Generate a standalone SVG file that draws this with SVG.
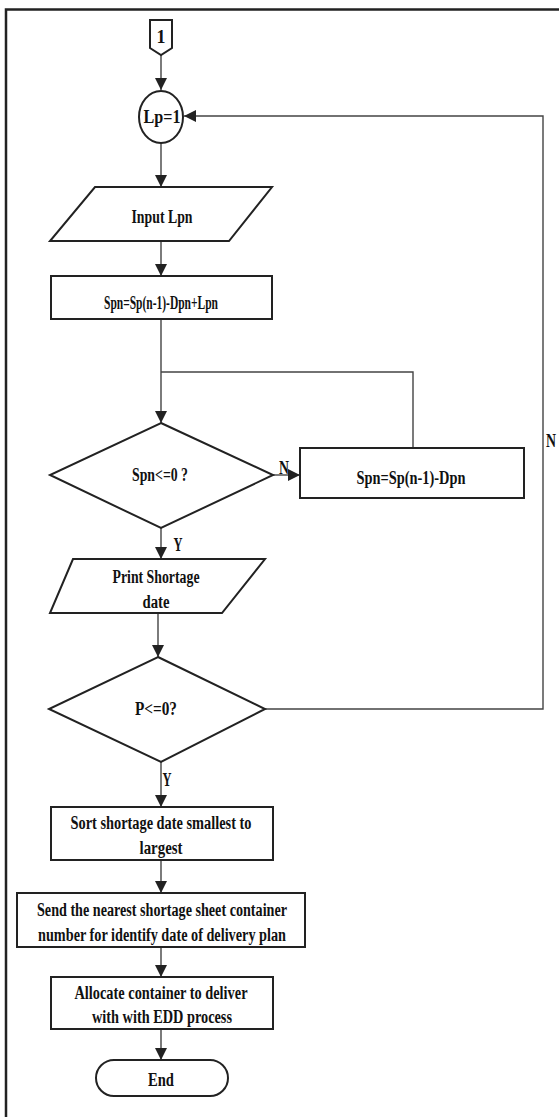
<svg xmlns="http://www.w3.org/2000/svg" width="559" height="1117" viewBox="0 0 559 1117">
<defs>
<marker id="ah" markerUnits="userSpaceOnUse" markerWidth="12" markerHeight="12" refX="12" refY="6" orient="auto"><path d="M0,0 L12,6 L0,12 z" fill="#222"/></marker>
<style>
.n{fill:#fff;stroke:#222;stroke-width:2}
.c{fill:none;stroke:#444;stroke-width:1.4}
.t{font-family:"Liberation Serif","Times New Roman",serif;font-weight:bold;font-size:18px;fill:#111;text-anchor:middle}
.f{fill:none;stroke:#222;stroke-width:2.5}
</style>
</defs>
<rect width="559" height="1117" fill="#fff"/>
<path class="f" d="M6,1117 V9.5 H559"/>
<g id="connectors">
<path class="c" d="M161,55 V90" marker-end="url(#ah)"/>
<path class="c" d="M265,709 H543 V116 H184" marker-end="url(#ah)"/>
<path class="c" d="M161,143 V187" marker-end="url(#ah)"/>
<path class="c" d="M161,241 V276" marker-end="url(#ah)"/>
<path class="c" d="M161,319 V423" marker-end="url(#ah)"/>
<path class="c" d="M413,448 V372 H161" stroke="#777"/>
<path class="c" d="M273,475 H300" marker-end="url(#ah)"/>
<path class="c" d="M161,528 V559" marker-end="url(#ah)"/>
<path class="c" d="M158,613 V657" marker-end="url(#ah)"/>
<path class="c" d="M161,762 V807" marker-end="url(#ah)"/>
<path class="c" d="M161,860 V893" marker-end="url(#ah)"/>
<path class="c" d="M161,947 V977" marker-end="url(#ah)"/>
<path class="c" d="M161,1029 V1060" marker-end="url(#ah)"/>
<text class="t" x="284" y="474" textLength="10" lengthAdjust="spacingAndGlyphs">N</text>
<text class="t" x="178" y="551" textLength="9" lengthAdjust="spacingAndGlyphs">Y</text>
<text class="t" x="167" y="786" textLength="9" lengthAdjust="spacingAndGlyphs">Y</text>
<text class="t" x="551" y="447" textLength="10" lengthAdjust="spacingAndGlyphs">N</text>
</g>
<g id="start">
<path class="n" d="M150,20 H172 V48 L161,55 L150,48 Z"/>
<text class="t" x="161" y="43" font-weight="normal">1</text>
</g>
<g id="lp1">
<ellipse class="n" cx="161" cy="117" rx="22" ry="26"/>
<text class="t" x="162" y="123" textLength="37" lengthAdjust="spacingAndGlyphs">Lp=1</text>
</g>
<g id="input">
<path class="n" d="M95,187 H272 L229,241 H50 Z"/>
<text class="t" x="162" y="223" textLength="61" lengthAdjust="spacingAndGlyphs">Input Lpn</text>
</g>
<g id="calc1">
<rect class="n" x="51" y="276" width="221" height="43"/>
<text class="t" x="161" y="309" textLength="114" lengthAdjust="spacingAndGlyphs">Spn=Sp(n-1)-Dpn+Lpn</text>
</g>
<g id="dec1">
<path class="n" d="M161,423 L273,475 L161,528 L50,475 Z"/>
<text class="t" x="160" y="481" textLength="56" lengthAdjust="spacingAndGlyphs">Spn&lt;=0 ?</text>
</g>
<g id="calc2">
<rect class="n" x="300" y="448" width="224" height="50"/>
<text class="t" x="411" y="484" textLength="109" lengthAdjust="spacingAndGlyphs">Spn=Sp(n-1)-Dpn</text>
</g>
<g id="print">
<path class="n" d="M73,559 H265 L222,613 H50 Z"/>
<text class="t" x="156" y="583" textLength="87" lengthAdjust="spacingAndGlyphs">Print Shortage</text>
<text class="t" x="156" y="608" textLength="27" lengthAdjust="spacingAndGlyphs">date</text>
</g>
<g id="dec2">
<path class="n" d="M158,657 L265,709 L161,762 L49,709 Z"/>
<text class="t" x="156" y="715" textLength="42" lengthAdjust="spacingAndGlyphs">P&lt;=0?</text>
</g>
<g id="sort">
<rect class="n" x="51" y="807" width="222" height="53"/>
<text class="t" x="161" y="829" textLength="181" lengthAdjust="spacingAndGlyphs">Sort shortage date smallest to</text>
<text class="t" x="161" y="854" textLength="43" lengthAdjust="spacingAndGlyphs">largest</text>
</g>
<g id="send">
<rect class="n" x="17" y="893" width="288" height="54"/>
<text class="t" x="162" y="916" textLength="250" lengthAdjust="spacingAndGlyphs">Send the nearest shortage sheet container</text>
<text class="t" x="162" y="941" textLength="248" lengthAdjust="spacingAndGlyphs">number for  identify date of delivery plan</text>
</g>
<g id="allocate">
<rect class="n" x="51" y="977" width="222" height="52"/>
<text class="t" x="161" y="999" textLength="173" lengthAdjust="spacingAndGlyphs">Allocate container to deliver</text>
<text class="t" x="162" y="1023" textLength="140" lengthAdjust="spacingAndGlyphs">with with EDD process</text>
</g>
<g id="end">
<rect class="n" x="96" y="1060" width="132" height="36" rx="18"/>
<text class="t" x="161" y="1086" textLength="26" lengthAdjust="spacingAndGlyphs">End</text>
</g>
</svg>
